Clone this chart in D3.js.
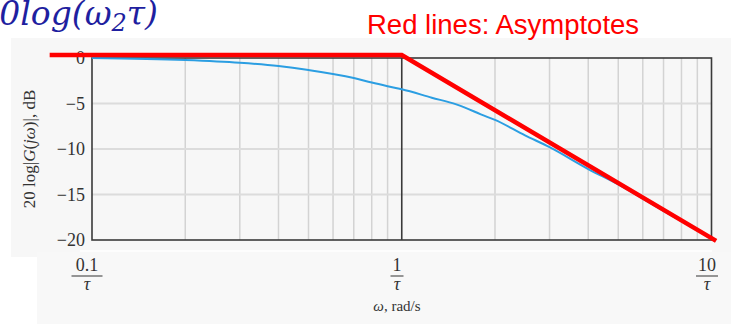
<!DOCTYPE html>
<html>
<head>
<meta charset="utf-8">
<script src="https://cdn.jsdelivr.net/npm/d3@7"></script>
<style>
  body { margin: 0; background: #fff; }
  svg { display: block; }
  .serif { font-family: "Liberation Serif", "Times New Roman", serif; }
</style>
</head>
<body>
<div id="chart"></div>
<script>
// data
const omega = [0.1, 0.2, 0.3, 0.4, 0.5, 0.7, 0.8, 0.9, 1, 1.25, 1.5, 1.6, 1.8, 2, 2.5, 3, 4, 5, 7, 10]
const gainDb = [0, -0.22, -0.52, -0.88, -1.32, -2.2, -2.7, -3.1, -3.44, -4.36, -5.1, -5.45, -6.2, -6.8, -8.5, -9.8, -12.2, -13.9, -16.8, -19.8]

// hand drawn asymptotes (red)
const asymOmega = [0.073, 1, 10.35]
const asymDb = [0.33, 0.33, -20.1]

const yTicks = [0, -5, -10, -15, -20]
const xTickNums = ["0.1", "1", "10"]
const xTickVals = [0.1, 1, 10]
const minorOmega = [0.2, 0.3, 0.4, 0.5, 0.6, 0.7, 0.8, 0.9, 2, 3, 4, 5, 6, 7, 8, 9]

const width = 731
const height = 324

const svg = d3.select("#chart").append("svg").attr("width", width).attr("height", height)

// the two grey screenshot panels
svg.append("rect").attr("x", 11).attr("y", 38).attr("width", 720).attr("height", 219).attr("fill", "#f7f7f7")
svg.append("rect").attr("x", 37).attr("y", 252).attr("width", 694).attr("height", 72).attr("fill", "#f8f8f8")
svg.append("line").attr("x1", 80).attr("x2", 712).attr("y1", 251).attr("y2", 251).attr("stroke", "#fff").attr("stroke-width", 1.5)

const x = d3.scaleLog().domain([0.1, 10]).range([92, 711.5])
const y = d3.scaleLinear().domain([0, -20]).range([58, 240])
// tick labels sit a few px left in the lower panel
const xLab = d3.scaleLog().domain([0.1, 10]).range([87, 707])

// grid
svg.append("g")
  .selectAll("line")
  .data(minorOmega)
  .join("line")
  .attr("x1", (d) => x(d))
  .attr("x2", (d) => x(d))
  .attr("y1", y(0))
  .attr("y2", y(-20))
  .attr("stroke", "#d3d3d3")
  .attr("stroke-width", 1.5)

svg.append("g")
  .selectAll("line")
  .data([-5, -10, -15])
  .join("line")
  .attr("x1", x(0.1))
  .attr("x2", x(10))
  .attr("y1", (d) => y(d))
  .attr("y2", (d) => y(d))
  .attr("stroke", "#dcdcdc")
  .attr("stroke-width", 2)

// frame + line at 1/tau
svg.append("rect")
  .attr("x", x(0.1))
  .attr("y", y(0))
  .attr("width", x(10) - x(0.1))
  .attr("height", y(-20) - y(0))
  .attr("fill", "none")
  .attr("stroke", "#3a3a3a")
  .attr("stroke-width", 1.6)
svg.append("line")
  .attr("x1", x(1)).attr("x2", x(1))
  .attr("y1", y(0)).attr("y2", y(-20))
  .attr("stroke", "#3a3a3a")
  .attr("stroke-width", 1.6)

// y axis
const yAxis = svg.append("g")
  .attr("transform", `translate(${x(0.1)},0)`)
  .call(d3.axisLeft(y).tickValues(yTicks).tickSize(0).tickPadding(7))
yAxis.attr("font-family", null).attr("font-size", null)
yAxis.select(".domain").remove()
yAxis.selectAll("text")
  .style("font-family", "'Liberation Serif', serif")
  .style("font-size", "18px")
  .attr("fill", "#333")

svg.append("text")
  .attr("class", "serif")
  .attr("transform", `translate(35,149) rotate(-90)`)
  .attr("text-anchor", "middle")
  .style("font-size", "17px")
  .attr("fill", "#333")
  .call((t) => {
    t.append("tspan").text("20 log|")
    t.append("tspan").attr("font-style", "italic").text("G")
    t.append("tspan").text("(")
    t.append("tspan").attr("font-style", "italic").text("jω")
    t.append("tspan").text(")|, dB")
  })

// x tick labels as fractions
const xl = svg.append("g")
  .selectAll("g")
  .data(xTickVals)
  .join("g")
  .attr("transform", (d) => `translate(${xLab(d)},0)`)
xl.append("text")
  .attr("class", "serif")
  .attr("y", 271)
  .attr("text-anchor", "middle")
  .style("font-size", "18px")
  .attr("fill", "#333")
  .text((d, i) => xTickNums[i])
xl.append("line")
  .attr("x1", (d, i) => -(xTickNums[i].length * 4.5 + 2))
  .attr("x2", (d, i) => xTickNums[i].length * 4.5 + 2)
  .attr("y1", 276)
  .attr("y2", 276)
  .attr("stroke", "#333")
  .attr("stroke-width", 1)
xl.append("text")
  .attr("class", "serif")
  .attr("y", 290)
  .attr("text-anchor", "middle")
  .attr("font-style", "italic")
  .style("font-size", "18px")
  .attr("fill", "#333")
  .text("τ")

svg.append("text")
  .attr("class", "serif")
  .attr("x", xLab(1))
  .attr("y", 311)
  .attr("text-anchor", "middle")
  .style("font-size", "15px")
  .attr("fill", "#333")
  .call((t) => {
    t.append("tspan").attr("font-style", "italic").text("ω")
    t.append("tspan").text(", rad/s")
  })

// magnitude curve
const line = d3.line()
  .x((d, i) => x(omega[i]))
  .y((d) => y(d))
  .curve(d3.curveMonotoneX)
svg.append("path")
  .datum(gainDb)
  .attr("d", line)
  .attr("fill", "none")
  .attr("stroke", "#2b9ee2")
  .attr("stroke-width", 2)

// asymptotes
const asymLine = d3.line()
  .x((d, i) => x(asymOmega[i]))
  .y((d) => y(d))
svg.append("path")
  .datum(asymDb)
  .attr("d", asymLine)
  .attr("fill", "none")
  .attr("stroke", "#ff0000")
  .attr("stroke-width", 4.5)

// annotations
svg.append("text")
  .attr("x", 158)
  .attr("y", 25)
  .attr("text-anchor", "end")
  .attr("font-family", "'DejaVu Serif', serif")
  .attr("font-style", "italic")
  .attr("font-size", 33)
  .attr("fill", "#1f1fa0")
  .call((t) => {
    t.append("tspan").text("20log(ω")
    t.append("tspan").attr("font-size", 24).attr("dy", 6).text("2")
    t.append("tspan").attr("dy", -6).text("τ)")
  })

svg.append("text")
  .attr("x", 367)
  .attr("y", 34)
  .attr("font-family", "'Liberation Sans', Arial, sans-serif")
  .attr("font-size", 27.5)
  .attr("fill", "#ff0000")
  .text("Red lines: Asymptotes")
</script>
</body>
</html>
